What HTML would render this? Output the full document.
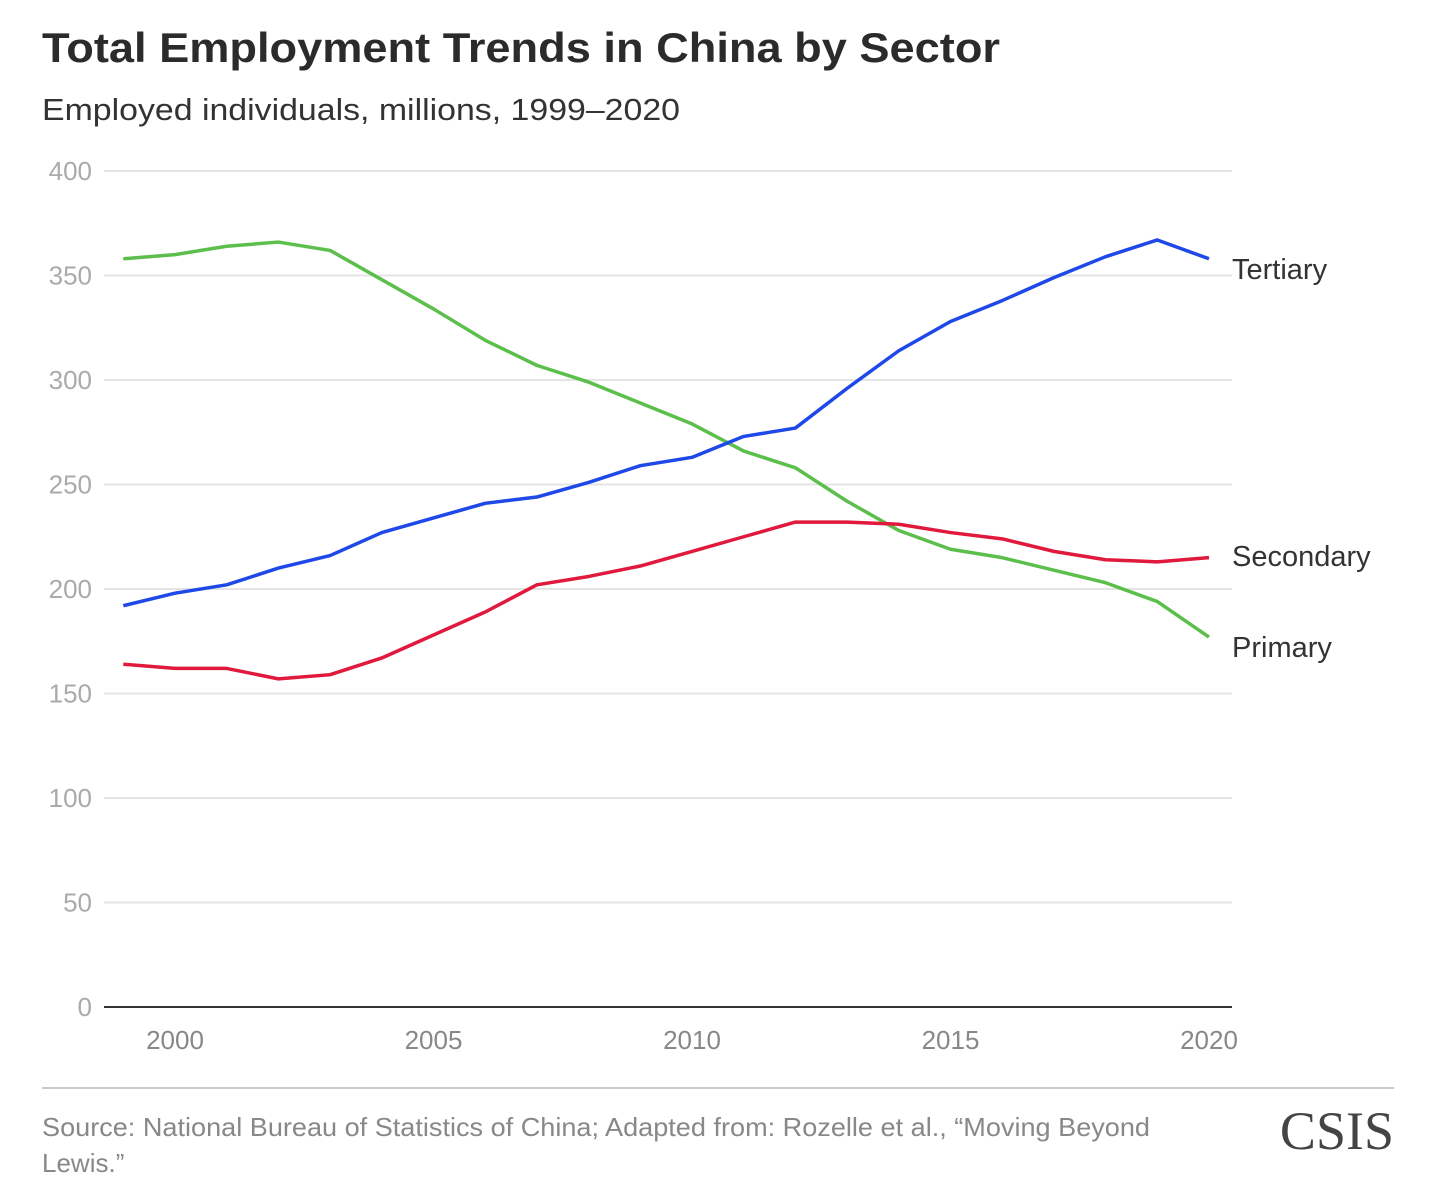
<!DOCTYPE html>
<html><head><meta charset="utf-8"><style>
body{margin:0;background:#fff;width:1456px;height:1195px;overflow:hidden;font-family:"Liberation Sans",sans-serif}
</style></head><body>
<svg width="1456" height="1195">
<text x="42" y="62" font-size="42" font-weight="bold" fill="#2b2b2b" textLength="958" lengthAdjust="spacingAndGlyphs">Total Employment Trends in China by Sector</text>
<text x="42" y="120" font-size="31" fill="#333" textLength="638" lengthAdjust="spacingAndGlyphs">Employed individuals, millions, 1999–2020</text>
<g id="axes"></g>
<g id="lines"></g>
<line x1="42" y1="1088" x2="1394" y2="1088" stroke="#ccc" stroke-width="2"/>
<text x="42" y="1136" font-size="26" fill="#888" textLength="1108" lengthAdjust="spacingAndGlyphs">Source: National Bureau of Statistics of China; Adapted from: Rozelle et al., “Moving Beyond</text>
<text x="42" y="1172" font-size="26" fill="#888">Lewis.”</text>
<text x="1394" y="1149" font-size="54" fill="#444" text-anchor="end" font-family="Liberation Serif,serif">CSIS</text>
</svg>
<script>
const years=[1999,2000,2001,2002,2003,2004,2005,2006,2007,2008,2009,2010,2011,2012,2013,2014,2015,2016,2017,2018,2019,2020];
const tertiary=[192,198,202,210,216,227,234,241,244,251,259,263,273,277,296,314,328,338,349,359,367,358];
const primary=[358,360,364,366,362,348,334,319,307,299,289,279,266,258,242,228,219,215,209,203,194,177];
const secondary=[164,162,162,157,159,167,178,189,202,206,211,218,225,232,232,231,227,224,218,214,213,215];
const yTicks=[0,50,100,150,200,250,300,350,400];
const xTicks=[2000,2005,2010,2015,2020];
const NS="http://www.w3.org/2000/svg";
const X=v=>175+(v-2000)*51.7, Y=v=>1007-v*2.09;
const ax=document.getElementById('axes'), ln=document.getElementById('lines');
function mk(tag,at,parent){const e=document.createElementNS(NS,tag);for(const k in at)e.setAttribute(k,at[k]);parent.appendChild(e);return e;}
yTicks.forEach(t=>{
  const g=mk('line',{x1:104,x2:1232,y1:Y(t),y2:Y(t),stroke:t===0?'#333':'#e4e4e4','stroke-width':2},ax);
  
  
  const tx=mk('text',{x:92,y:Y(t)+9,'font-size':26,fill:'#aaa','text-anchor':'end'},ax);tx.textContent=t;
  
  
});
xTicks.forEach(t=>{
  const tx=mk('text',{x:X(t),y:1049,'font-size':26,fill:'#888','text-anchor':'middle'},ax);tx.textContent=t;
  
  
});
[[primary,'#5cbf4c','Primary',657],[secondary,'#e0193d','Secondary',566],[tertiary,'#1f48e8','Tertiary',279]].forEach(([d,c,n,ly])=>{
  const p=mk('polyline',{points:d.map((v,i)=>X(years[i])+','+Y(v)).join(' '),fill:'none',stroke:c,'stroke-width':3.5,'stroke-linejoin':'round'},ln);
  
  
  const t=mk('text',{x:1232,y:ly,'font-size':29,fill:'#333'},ln);t.textContent=n;
  
  
});
</script>
</body></html>
